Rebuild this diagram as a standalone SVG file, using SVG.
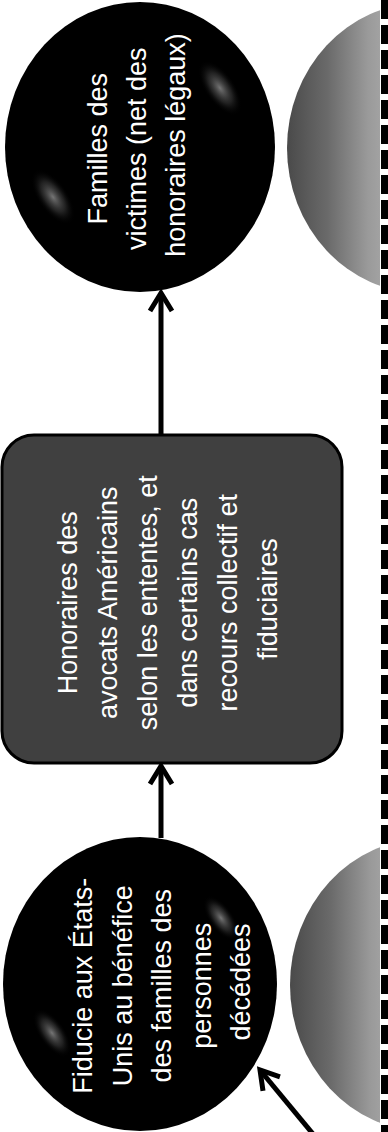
<svg xmlns="http://www.w3.org/2000/svg" width="388" height="1132" viewBox="0 0 388 1132">
  <style>
    .lbl { font-family: "Liberation Sans", Arial, sans-serif; font-size: 27px; fill: #ffffff; text-anchor: middle; }
    .ball { fill: #000000; }
    .conn { stroke: #000000; stroke-width: 5; fill: none; }
    .ghost { fill: url(#greyGrad); }
  </style>
  <defs>
    <radialGradient id="hl">
      <stop offset="0" stop-color="#8a8a8a" stop-opacity="0.85"/>
      <stop offset="0.55" stop-color="#444444" stop-opacity="0.5"/>
      <stop offset="1" stop-color="#000000" stop-opacity="0"/>
    </radialGradient>
    <linearGradient id="greyGrad" x1="0" y1="0" x2="1" y2="0">
      <stop offset="0" stop-color="#4a4a4a"/>
      <stop offset="0.15" stop-color="#6a6a6a"/>
      <stop offset="0.3" stop-color="#9a9a9a"/>
      <stop offset="0.5" stop-color="#bdbdbd"/>
      <stop offset="1" stop-color="#d8d8d8"/>
    </linearGradient>
    <clipPath id="clipRight">
      <rect x="0" y="0" width="380" height="1132"/>
    </clipPath>
    <marker id="chev" markerUnits="userSpaceOnUse" viewBox="-26 -16 32 32" refX="0" refY="0" markerWidth="32" markerHeight="32" orient="auto" overflow="visible">
      <path d="M -18 -11 L 0 0 L -18 11" fill="none" stroke="#000000" stroke-width="5" stroke-linejoin="miter"/>
    </marker>
  </defs>

  <!-- background decorations -->
  <g id="decor" clip-path="url(#clipRight)">
    <ellipse class="ghost" cx="422" cy="148" rx="135" ry="145"/>
    <ellipse class="ghost" cx="425" cy="985" rx="135" ry="146"/>
  </g>
  <line id="divider" x1="384.5" y1="0" x2="384.5" y2="1132" stroke="#000000" stroke-width="7" stroke-dasharray="19 6"/>

  <!-- connectors -->
  <g id="connectors">
    <line class="conn" x1="161" y1="435" x2="161" y2="293" marker-end="url(#chev)"/>
    <line class="conn" x1="161" y1="838" x2="161" y2="766" marker-end="url(#chev)"/>
    <line class="conn" x1="313" y1="1134" x2="260" y2="1070" marker-end="url(#chev)"/>
  </g>

  <!-- node: families of victims -->
  <g id="node-familles">
    <ellipse class="ball" cx="140" cy="147" rx="135" ry="145"/>
    <ellipse cx="53" cy="197" rx="32" ry="15" fill="url(#hl)" transform="rotate(55 53 197)"/>
    <ellipse cx="220" cy="88" rx="32" ry="15" fill="url(#hl)" transform="rotate(55 220 88)"/>
    <text class="lbl" transform="translate(0,145) rotate(-90)">
      <tspan x="0" y="107">Familles des</tspan>
      <tspan x="0" y="146">victimes (net des</tspan>
      <tspan x="0" y="185">honoraires légaux)</tspan>
    </text>
  </g>

  <!-- node: lawyer fees -->
  <g id="node-honoraires">
    <rect x="2" y="435" width="340" height="328" rx="32" ry="32" fill="#404040" stroke="#000000" stroke-width="3"/>
    <text class="lbl" transform="translate(0,599) rotate(-90)">
      <tspan x="0" y="77">Honoraires des</tspan>
      <tspan x="0" y="117">avocats Américains</tspan>
      <tspan x="0" y="157">selon les ententes, et</tspan>
      <tspan x="0" y="197">dans certains cas</tspan>
      <tspan x="0" y="237">recours collectif et</tspan>
      <tspan x="0" y="277">fiduciaires</tspan>
    </text>
  </g>

  <!-- node: US trust -->
  <g id="node-fiducie">
    <ellipse class="ball" cx="140" cy="984" rx="137" ry="147"/>
    <ellipse cx="52" cy="1033" rx="28" ry="13" fill="url(#hl)" transform="rotate(55 52 1033)"/>
    <ellipse cx="221" cy="918" rx="26" ry="12" fill="url(#hl)" transform="rotate(55 221 918)"/>
    <text class="lbl" transform="translate(0,982) rotate(-90)">
      <tspan x="0" y="92">Fiducie aux États-</tspan>
      <tspan x="0" y="131.5">Unis au bénéfice</tspan>
      <tspan x="0" y="171">des familles des</tspan>
      <tspan x="0" y="210.5">personnes</tspan>
      <tspan x="0" y="250">décédées</tspan>
    </text>
  </g>
</svg>
